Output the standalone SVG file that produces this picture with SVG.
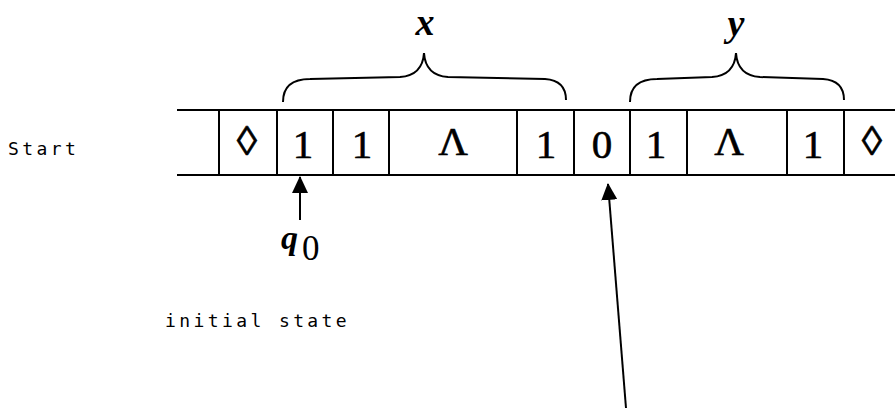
<svg xmlns="http://www.w3.org/2000/svg" width="895" height="409" viewBox="0 0 895 409">
<style>
.line{stroke:#000;stroke-width:2;fill:none}
.sym{font-family:"Liberation Serif","Times New Roman",serif;font-size:41px;text-anchor:middle;fill:#000;stroke:#000;stroke-width:0.6}
.mono{font-family:"DejaVu Sans Mono","Liberation Mono",monospace;font-size:18px;letter-spacing:3.4px;fill:#000}
.lbl{font-family:"Liberation Serif","Times New Roman",serif;font-style:italic;font-weight:bold;fill:#000}
</style>
<defs>
<marker id="ah" markerWidth="17" markerHeight="16" refX="16" refY="8" orient="auto" markerUnits="userSpaceOnUse" viewBox="0 0 17 16">
<path d="M17,8 L0,0 L0,16 Z" fill="#000"/>
</marker>
</defs>
<rect width="895" height="409" fill="#fff"/>
<g id="labels">
<text class="mono" x="8" y="155">Start</text>
<text class="mono" x="165" y="327">initial state</text>
</g>
<g id="tape">
<line class="line" x1="177" y1="110" x2="895" y2="110"/>
<line class="line" x1="177" y1="175" x2="895" y2="175"/>
<line class="line" x1="219" y1="110" x2="219" y2="175"/>
<line class="line" x1="277" y1="110" x2="277" y2="175"/>
<line class="line" x1="333" y1="110" x2="333" y2="175"/>
<line class="line" x1="389" y1="110" x2="389" y2="175"/>
<line class="line" x1="517" y1="110" x2="517" y2="175"/>
<line class="line" x1="574" y1="110" x2="574" y2="175"/>
<line class="line" x1="630" y1="110" x2="630" y2="175"/>
<line class="line" x1="687" y1="110" x2="687" y2="175"/>
<line class="line" x1="787" y1="110" x2="787" y2="175"/>
<line class="line" x1="844" y1="110" x2="844" y2="175"/>
</g>
<g id="cells">
<text class="sym" x="247" y="155" font-size="34" stroke-width="0.3">◊</text>
<text class="sym" x="303" y="158">1</text>
<text class="sym" x="362" y="158">1</text>
<text class="sym" x="453" y="155">Λ</text>
<text class="sym" x="546" y="158">1</text>
<text class="sym" x="602" y="158">0</text>
<text class="sym" x="656" y="158">1</text>
<text class="sym" x="729" y="155">Λ</text>
<text class="sym" x="813" y="158">1</text>
<text class="sym" x="872" y="155" font-size="34" stroke-width="0.3">◊</text>
</g>
<g id="braces">
<path class="line" d="M283,102 C283,88 290,79 310,79 L400,77 C415,76 423,68 424,53 C425,68 433,76 448,77 L545,79 C560,80 566,88 566,100"/>
<text class="lbl" x="425" y="35" font-size="38" text-anchor="middle">x</text>
<path class="line" d="M630,102 C630,88 637,79 657,79 L712,77 C727,76 735,68 736,53 C737,68 745,76 760,77 L823,79 C838,80 844,88 844,100"/>
<text class="lbl" x="736" y="36" font-size="38" text-anchor="middle">y</text>
</g>
<g id="head">
<text x="281" y="249" class="lbl" font-size="34">q</text>
<text x="302" y="260" font-family="Liberation Serif, Times New Roman, serif" font-size="35">0</text>
</g>
<g id="connectors">
<line class="line" x1="300" y1="220" x2="300" y2="177" marker-end="url(#ah)"/>
<line class="line" x1="626" y1="408" x2="608" y2="184" marker-end="url(#ah)"/>
</g>
</svg>
